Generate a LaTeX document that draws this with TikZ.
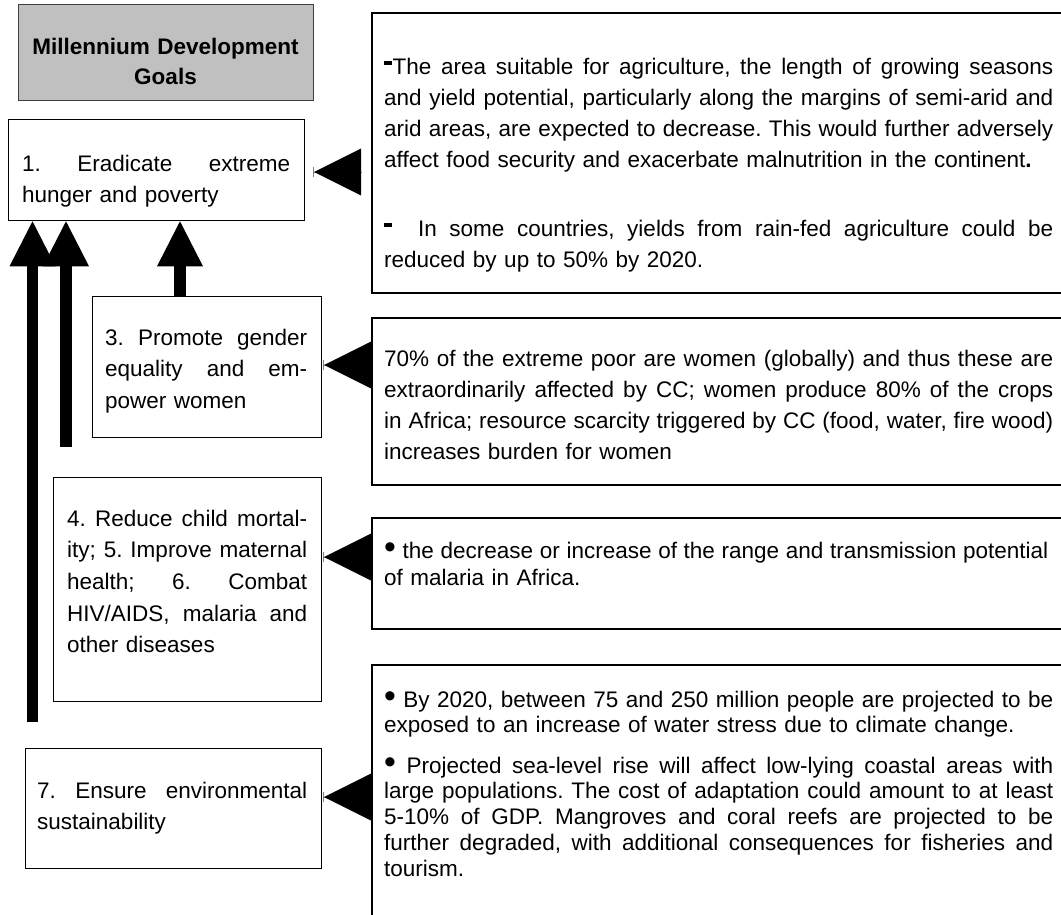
\documentclass[tikz,border=0pt]{standalone}
\usepackage{fontspec}
\setmainfont{Liberation Sans}
\usetikzlibrary{arrows.meta}
\definecolor{titlegray}{RGB}{192,192,192}
\definecolor{edgegray}{RGB}{64,64,64}
\newcommand{\J}[2]{\leavevmode\hbox to #1{\spaceskip=\fontdimen2\font plus 1fil\relax #2}}
\newcommand{\bul}{\scalebox{1.5}{\char"2022}}
\newcommand{\rdash}{\rule[10pt]{7.5pt}{3.8pt}\kern1pt}
\begin{document}
\begin{tikzpicture}[x=1pt,y=-1pt,
  goalbox/.style={draw=black, line width=1.3pt, rectangle, inner sep=0pt, anchor=north west},
  impactbox/.style={draw=black, line width=1.8pt, rectangle, inner sep=0pt, anchor=north west},
  txt/.style={font=\fontsize{22.5}{#1}\selectfont\frenchspacing, inner sep=0pt, anchor=base west, align=left},
  varrow/.style={line width=11.5pt, -{Triangle[length=45pt,width=46pt,line width=0pt]}},
  harrow/.style={draw=gray, line width=0.8pt, -{Triangle[length=47pt,width=47pt,line width=0pt,color=black,fill=black]Bar[width=10pt,line width=1pt,color=gray]}}
]
\useasboundingbox (0,0) rectangle (1061,915);
\clip (0,0) rectangle (1061,915);

% left column boxes
\node[goalbox, fill=titlegray, draw=edgegray, minimum width=295pt, minimum height=96pt] (tb) at (18,4) {};
\node[font=\fontsize{22.5}{30}\selectfont\bfseries, text width=290pt, align=center, inner sep=0pt, anchor=base] (tt) at (165.5,55) {Millennium Development\\Goals};

\node[goalbox, minimum width=296pt, minimum height=101pt] (b1) at (8,119) {};
\node[txt=31, text width=268pt] (t1) at (22,172) {\J{268pt}{1. Eradicate extreme}\\hunger and poverty};

\node[goalbox, minimum width=229pt, minimum height=141pt] (b3) at (92,296) {};
\node[txt=31.5, text width=202pt] (t3) at (105,345) {\J{202pt}{3. Promote gender}\\\J{202pt}{equality and em-}\\power women};

\node[goalbox, minimum width=268pt, minimum height=224pt] (b4) at (53,477) {};
\node[txt=31.7, text width=240pt] (t4) at (67,526) {\J{240pt}{4. Reduce child mortal-}\\\J{240pt}{ity; 5. Improve maternal}\\\J{240pt}{health; 6. Combat}\\\J{240pt}{HIV/AIDS, malaria and}\\other diseases};

\node[goalbox, minimum width=296pt, minimum height=120pt] (b7) at (25,748) {};
\node[txt=31.5, text width=270pt] (t7) at (37,798) {\J{270pt}{7. Ensure environmental}\\sustainability};

% right column boxes
\node[impactbox, minimum width=709pt, minimum height=280pt] (r1) at (371,12) {};
\node[txt=31, text width=669pt] (s1) at (384,75) {\J{669pt}{\rdash The area suitable for agriculture, the length of growing seasons}\\
\J{669pt}{and yield potential, particularly along the margins of semi-arid and}\\
\J{669pt}{arid areas, are expected to decrease. This would further adversely}\\
affect food security and exacerbate malnutrition in the continent\textbf{.}\\[38pt]
\J{669pt}{\rdash\ \ In some countries, yields from rain-fed agriculture could be}\\
reduced by up to 50\% by 2020.};

\node[impactbox, minimum width=709pt, minimum height=167pt] (r2) at (371,317) {};
\node[txt=31.3, text width=669pt] (s2) at (384,366) {\J{669pt}{70\% of the extreme poor are women (globally) and thus these are}\\
\J{669pt}{extraordinarily affected by CC; women produce 80\% of the crops}\\
\J{669pt}{in Africa; resource scarcity triggered by CC (food, water, fire wood)}\\
increases burden for women};

\node[impactbox, minimum width=709pt, minimum height=111pt] (r3) at (371,517) {};
\node[txt=27, text width=664pt] (s3) at (384,558) {\J{664pt}{\bul{} the decrease or increase of the range and transmission potential}\\
of malaria in Africa.};

\node[impactbox, minimum width=709pt, minimum height=280pt] (r4) at (371,664) {};
\node[txt=25.8, text width=669pt] (s4) at (384,707) {\J{669pt}{\bul{} By 2020, between 75 and 250 million people are projected to be}\\
exposed to an increase of water stress due to climate change.\\[14.5pt]
\J{669pt}{\bul{} Projected sea-level rise will affect low-lying coastal areas with}\\
\J{669pt}{large populations. The cost of adaptation could amount to at least}\\
\J{669pt}{5-10\% of GDP. Mangroves and coral reefs are projected to be}\\
\J{669pt}{further degraded, with additional consequences for fisheries and}\\
tourism.};

% vertical arrows into goal 1
\coordinate (a1s) at (32.5,722);
\coordinate (a2s) at (66,447);
\coordinate (a3x) at (180,0);
\draw[varrow] (a1s) -- (b1.south -| a1s);
\draw[varrow] (a2s) -- (b1.south -| a2s);
\draw[varrow] (b3.north -| a3x) -- (b1.south -| a3x);

% horizontal arrows from impacts to goals
\coordinate (h1) at (313,172);
\coordinate (h2) at (323,365);
\coordinate (h3) at (323,557);
\coordinate (h4) at (323,797);
\draw[harrow, shorten <=9pt] (r1.west |- h1) -- (h1);
\draw[harrow] (r2.west |- h2) -- (h2);
\draw[harrow] (r3.west |- h3) -- (h3);
\draw[harrow] (r4.west |- h4) -- (h4);
\end{tikzpicture}
\end{document}
